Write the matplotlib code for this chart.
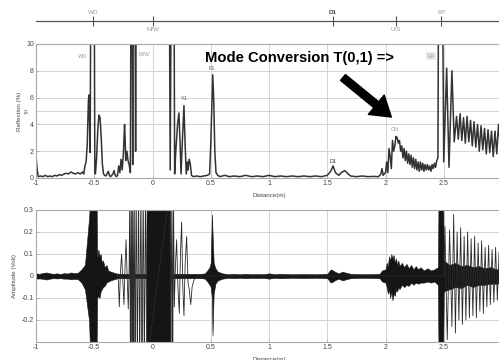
import matplotlib
matplotlib.use("Agg")
import matplotlib.pyplot as plt

plt.rcParams['font.family'] = ['Liberation Sans', 'DejaVu Sans']

# ---------------- data ----------------
feature_names = ["WD", "M/W", "D1", "U/S", "EP"]
feature_pos = [-0.51, 0.0, 1.55, 2.09, 2.48]

refl_x = [-1.00, -0.99, -0.98, -0.96, -0.94, -0.92, -0.90, -0.88, -0.86, -0.84, -0.82, -0.80,
          -0.78, -0.76, -0.74, -0.72, -0.70, -0.68, -0.66, -0.64, -0.62, -0.60, -0.59, -0.58,
          -0.57, -0.56, -0.55, -0.545, -0.54, -0.535, -0.53, -0.50, -0.495, -0.49, -0.48, -0.47,
          -0.46, -0.45, -0.44, -0.43, -0.42, -0.41, -0.40, -0.39, -0.38, -0.37, -0.36, -0.35,
          -0.34, -0.33, -0.32, -0.31, -0.30, -0.29, -0.28, -0.27, -0.26, -0.25, -0.24, -0.235,
          -0.23, -0.22, -0.21, -0.20, -0.19, -0.185, -0.175, -0.17, -0.165, -0.15, -0.145, -0.14,
          0.145, 0.152, 0.16, 0.185, 0.19, 0.20, 0.215, 0.227, 0.237, 0.245, 0.255, 0.27,
          0.28, 0.29, 0.30, 0.305, 0.315, 0.325, 0.335, 0.35, 0.38, 0.41, 0.44, 0.47,
          0.49, 0.50, 0.517, 0.525, 0.535, 0.545, 0.56, 0.58, 0.62, 0.66, 0.70, 0.75,
          0.80, 0.85, 0.90, 0.95, 1.00, 1.05, 1.10, 1.15, 1.20, 1.25, 1.30, 1.35,
          1.40, 1.45, 1.50, 1.53, 1.55, 1.57, 1.60, 1.62, 1.65, 1.68, 1.70, 1.75,
          1.80, 1.85, 1.90, 1.94, 1.96, 1.97, 1.98, 2.00, 2.01, 2.02, 2.03, 2.04,
          2.05, 2.06, 2.07, 2.08, 2.09, 2.10, 2.11, 2.12, 2.13, 2.14, 2.15, 2.16,
          2.17, 2.18, 2.19, 2.20, 2.21, 2.22, 2.23, 2.24, 2.25, 2.26, 2.27, 2.28,
          2.29, 2.30, 2.31, 2.32, 2.33, 2.34, 2.35, 2.36, 2.37, 2.38, 2.39, 2.40,
          2.41, 2.42, 2.43, 2.44, 2.45, 2.455, 2.49, 2.50, 2.525, 2.545, 2.57, 2.59,
          2.61, 2.625, 2.64, 2.655, 2.67, 2.685, 2.70, 2.715, 2.73, 2.745, 2.76, 2.775,
          2.79, 2.805, 2.82, 2.835, 2.85, 2.865, 2.88, 2.895, 2.91, 2.925, 2.94, 2.955,
          2.97, 2.985, 3.00]
refl_y = [1.7, 0.6, 0.1, 0.15, 0.1, 0.2, 0.1, 0.15, 0.1, 0.2, 0.15, 0.25,
          0.2, 0.3, 0.35, 0.3, 0.45, 0.35, 0.3, 0.4, 0.3, 0.45, 0.3, 0.9,
          1.2, 2.5, 5.8, 6.2, 4.0, 1.9, 14.0, 14.0, 0.4, 0.3, 1.5, 3.5,
          4.7, 4.5, 3.0, 1.0, 0.3, 0.2, 0.15, 0.3, 0.5, 0.2, 0.1, 0.2,
          0.3, 0.55, 0.2, 0.1, 0.2, 0.9, 0.4, 1.4, 0.6, 1.8, 4.0, 3.0,
          1.3, 2.0, 1.3, 1.0, 0.4, 14.0, 14.0, 1.0, 14.0, 14.0, 2.0, 14.0,
          14.0, 0.6, 14.0, 14.0, 0.3, 2.0, 4.0, 4.85, 2.5, 0.3, 2.5, 5.4,
          2.5, 0.3, 1.2, 0.6, 1.4, 1.0, 0.2, 0.1, 0.15, 0.1, 0.15, 0.2,
          0.3, 2.5, 7.7, 6.0, 2.0, 0.4, 0.2, 0.1, 0.2, 0.1, 0.15, 0.1,
          0.2, 0.1, 0.15, 0.1, 0.2, 0.1, 0.15, 0.1, 0.15, 0.1, 0.15, 0.1,
          0.15, 0.1, 0.2, 0.5, 0.9, 0.4, 0.2, 0.4, 0.55, 0.3, 0.15, 0.1,
          0.15, 0.1, 0.12, 0.1, 0.3, 0.7, 0.2, 0.4, 1.2, 0.4, 2.2, 1.6,
          0.7, 2.8, 2.0, 2.4, 3.1, 3.0, 2.6, 2.8, 2.0, 2.4, 1.5, 2.2,
          1.3, 2.0, 1.1, 1.8, 1.0, 1.7, 0.8, 1.5, 0.7, 1.4, 0.6, 1.2,
          0.5, 1.2, 0.6, 1.1, 0.5, 1.0, 0.6, 1.0, 0.6, 0.9, 0.5, 1.0,
          0.7, 1.1, 0.8, 1.3, 1.5, 14.0, 14.0, 1.2, 8.2, 0.8, 8.0, 2.7,
          4.6, 2.9, 4.8, 2.8, 4.5, 2.6, 4.6, 2.7, 4.3, 2.4, 4.2, 2.3,
          4.0, 2.0, 3.9, 2.1, 3.7, 1.8, 3.6, 1.9, 3.5, 1.6, 3.5, 1.8,
          4.0, 2.5, 3.0]

# envelope of the dense (unresolved) waveform: x, upper, lower (same length rows)
env_x = [-1.00, -0.97, -0.94, -0.91, -0.88, -0.85, -0.82, -0.79, -0.76, -0.73, -0.70, -0.67,
         -0.64, -0.61, -0.58, -0.56, -0.545, -0.535, -0.48, -0.475, -0.465, -0.455, -0.445, -0.435,
         -0.425, -0.41, -0.395, -0.38, -0.36, -0.33, -0.30, -0.055, -0.05, 0.15, 0.155, 0.38,
         0.42, 0.45, 0.47, 0.49, 0.50, 0.51, 0.515, 0.525, 0.54, 0.56, 0.60, 0.65,
         0.70, 0.75, 0.80, 0.85, 0.90, 0.95, 1.00, 1.05, 1.10, 1.20, 1.30, 1.40,
         1.50, 1.53, 1.55, 1.57, 1.60, 1.63, 1.66, 1.70, 1.80, 1.90, 1.95, 1.97,
         2.00, 2.01, 2.02, 2.03, 2.04, 2.05, 2.06, 2.07, 2.08, 2.09, 2.10, 2.11,
         2.12, 2.14, 2.16, 2.18, 2.20, 2.22, 2.24, 2.26, 2.28, 2.30, 2.33, 2.36,
         2.39, 2.42, 2.45, 2.455, 2.495, 2.50, 2.55, 2.60, 2.65, 2.70, 2.75, 2.80,
         2.85, 2.90, 2.95, 3.00]
env_hi = [0.012, 0.010, 0.014, 0.016, 0.012, 0.010, 0.012, 0.009, 0.013, 0.011, 0.016, 0.013,
          0.015, 0.03, 0.05, 0.17, 0.26, 0.35, 0.35, 0.08, 0.12, 0.09, 0.10, 0.06,
          0.07, 0.04, 0.05, 0.025, 0.02, 0.015, 0.01, 0.01, 0.35, 0.35, 0.01, 0.01,
          0.01, 0.012, 0.025, 0.04, 0.06, 0.28, 0.2, 0.06, 0.035, 0.02, 0.012, 0.008,
          0.010, 0.008, 0.010, 0.008, 0.009, 0.008, 0.012, 0.008, 0.010, 0.008, 0.009, 0.008,
          0.010, 0.03, 0.025, 0.018, 0.012, 0.02, 0.015, 0.01, 0.008, 0.009, 0.01, 0.025,
          0.03, 0.06, 0.04, 0.09, 0.07, 0.10, 0.08, 0.095, 0.06, 0.08, 0.05, 0.07,
          0.045, 0.06, 0.04, 0.055, 0.035, 0.05, 0.03, 0.045, 0.03, 0.04, 0.025, 0.035,
          0.025, 0.03, 0.04, 0.35, 0.35, 0.07, 0.05, 0.06, 0.045, 0.05, 0.04, 0.045,
          0.035, 0.04, 0.03, 0.035]
env_lo = [-0.012, -0.011, -0.013, -0.016, -0.012, -0.010, -0.011, -0.010, -0.012, -0.012, -0.015, -0.013,
          -0.015, -0.03, -0.06, -0.14, -0.2, -0.35, -0.35, -0.1, -0.09, -0.10, -0.07, -0.06,
          -0.05, -0.045, -0.03, -0.025, -0.02, -0.015, -0.01, -0.01, -0.35, -0.35, -0.01, -0.01,
          -0.01, -0.012, -0.025, -0.04, -0.05, -0.1, -0.27, -0.08, -0.035, -0.02, -0.012, -0.008,
          -0.010, -0.008, -0.010, -0.008, -0.009, -0.008, -0.012, -0.008, -0.010, -0.008, -0.009, -0.008,
          -0.010, -0.03, -0.025, -0.018, -0.012, -0.02, -0.015, -0.01, -0.008, -0.009, -0.01, -0.025,
          -0.03, -0.05, -0.08, -0.06, -0.10, -0.07, -0.11, -0.08, -0.09, -0.06, -0.07, -0.05,
          -0.06, -0.04, -0.05, -0.04, -0.045, -0.03, -0.04, -0.03, -0.035, -0.03, -0.03, -0.025,
          -0.03, -0.025, -0.04, -0.35, -0.35, -0.07, -0.06, -0.05, -0.055, -0.04, -0.05, -0.04,
          -0.04, -0.035, -0.035, -0.03]

# individual resolved swings of the waveform
wave_x = [-0.30, -0.295, -0.285, -0.275, -0.265, -0.255, -0.245, -0.236, -0.227, -0.218, -0.208, -0.200,
          -0.195, -0.190, -0.182, -0.176, -0.170, -0.164, -0.157, -0.150, -0.140, -0.130, -0.120, -0.110,
          -0.100, -0.090, -0.080, -0.070, -0.060, -0.050, 0.150, 0.158, 0.166, 0.174, 0.180, 0.187,
          0.197, 0.207, 0.218, 0.230, 0.240, 0.250, 0.260, 0.270, 0.280, 0.293, 0.305, 0.315,
          0.328, 0.340, 0.355, 0.370, 0.390, 2.500, 2.510, 2.530, 2.550, 2.570, 2.585, 2.600,
          2.615, 2.630, 2.645, 2.660, 2.675, 2.690, 2.705, 2.720, 2.735, 2.750, 2.765, 2.780,
          2.795, 2.810, 2.825, 2.840, 2.855, 2.870, 2.885, 2.900, 2.915, 2.930, 2.945, 2.960,
          2.975, 2.990]
wave_y = [0.0, 0.01, -0.14, 0.02, 0.10, -0.02, -0.13, 0.04, 0.165, 0.0, -0.15, 0.05,
          0.40, -0.40, 0.40, -0.40, 0.40, -0.40, 0.40, -0.40, 0.40, -0.40, 0.40, -0.40,
          0.40, -0.40, 0.40, -0.40, 0.40, -0.40, 0.40, -0.40, 0.40, -0.40, 0.40, -0.14,
          0.05, 0.165, -0.05, -0.17, 0.10, 0.245, -0.05, -0.18, 0.05, 0.18, -0.03, -0.06,
          -0.13, -0.05, -0.02, -0.005, 0.0, 0.0, 0.225, -0.29, 0.21, -0.23, 0.28, -0.26,
          0.20, -0.20, 0.22, -0.22, 0.18, -0.20, 0.20, -0.19, 0.17, -0.18, 0.18, -0.19,
          0.15, -0.16, 0.16, -0.17, 0.13, -0.14, 0.14, -0.13, 0.12, -0.12, 0.13, -0.11,
          0.11, -0.10]

top_yticks = [0, 2, 4, 6, 8, 10]
bot_yticks = [-0.2, -0.1, 0, 0.1, 0.2, 0.3]
bot_yticklabels = ["-0.2", "-0.1", "0", "0.1", "0.2", "0.3"]
xticks = [-1, -0.5, 0, 0.5, 1, 1.5, 2, 2.5]
xticklabels = ["-1", "-0.5", "0", "0.5", "1", "1.5", "2", "2.5"]
threshold = 5

# peak labels inside top panel: (text, x, y, color)
peak_labels = [("WD", -0.60, 9.1, "#999999"), ("M/W", -0.07, 9.2, "#999999"),
               ("Y1", 0.27, 5.9, "#555555"), ("F1", 0.51, 8.2, "#555555"),
               ("D1", 1.55, 1.25, "#333333"), ("CN", 2.08, 3.6, "#999999")]

# ---------------- figure ----------------
W, H = 499, 360
fig = plt.figure(figsize=(W / 100, H / 100), dpi=100)

def px_axes(left, top, right, bottom):
    return [left / W, 1 - bottom / H, (right - left) / W, (bottom - top) / H]

xlim = (-1, 3)
grid_c = "#d4d4d4"
spine_c = "#a8a8a8"
tick_c = "#444444"
fs_tick = 5

# feature axis
axf = fig.add_axes(px_axes(36, 5, 502, 21))
axf.set_xlim(*xlim)
axf.set_ylim(0, 1)
for s in ["top", "left", "right"]:
    axf.spines[s].set_visible(False)
axf.spines["bottom"].set_color("#555555")
axf.spines["bottom"].set_linewidth(0.9)
axf.set_yticks([])
axf.set_xticks(feature_pos)
axf.set_xticklabels([])
axf.tick_params(axis="x", direction="inout", length=7, width=0.8, color="#555555")
axf.patch.set_alpha(0)
for n, p in zip(feature_names, feature_pos):
    above = n in ("WD", "D1", "EP")
    col = "#444444" if n == "D1" else "#999999"
    axf.text(p, 0.55 if above else -0.55, n, ha="center", va="center",
             fontsize=4.5, color=col, fontweight="bold" if n == "D1" else "normal",
             clip_on=False)

# top panel
ax1 = fig.add_axes(px_axes(36, 44, 502, 178))
ax1.plot(refl_x, refl_y, color="#333333", lw=1.1)
ax1.axhline(threshold, color=grid_c, lw=0.7, zorder=0)
ax1.set_xlim(*xlim)
ax1.set_ylim(0, 10)
ax1.set_yticks(top_yticks)
ax1.set_yticklabels([str(v) for v in top_yticks])
ax1.set_xticks(xticks)
ax1.set_xticklabels(xticklabels)
ax1.grid(True, color=grid_c, lw=0.7)
ax1.set_axisbelow(True)
ax1.set_ylabel("Reflection (%)", fontsize=4.5, color="#444444", labelpad=3)
ax1.set_xlabel("Distance(m)", fontsize=4.5, color="#444444")
ax1.xaxis.set_label_coords(0.5, -0.11)
ax1.text(-1.07, threshold, "TH", rotation=90, fontsize=3.5, color="#666666",
         ha="center", va="center", clip_on=False)
for t, x, y, c in peak_labels:
    ax1.text(x, y, t, fontsize=4, color=c, ha="center", va="center")
ax1.text(2.39, 9.1, "EP", fontsize=4, color="#999999", ha="center", va="center",
         bbox=dict(boxstyle="square,pad=0.2", fc="#e8e8e8", ec="none"))
ax1.text(0.45, 8.95, "Mode Conversion T(0,1) =>", fontsize=10.6, fontweight="bold",
         color="black", ha="left", va="center")
ax1.annotate("", xy=(2.05, 4.55), xytext=(1.635, 7.5),
             arrowprops=dict(arrowstyle="simple,head_width=1.8,head_length=1.4,tail_width=0.55",
                             color="black", shrinkA=0, shrinkB=0))

# bottom panel
ax2 = fig.add_axes(px_axes(36, 210, 502, 342))
ax2.fill_between(env_x, env_lo, env_hi, color="#151515", lw=0.4)
ax2.plot(wave_x, wave_y, color="#2a2a2a", lw=0.6)
ax2.set_xlim(*xlim)
ax2.set_ylim(-0.3, 0.3)
ax2.set_yticks(bot_yticks)
ax2.set_yticklabels(bot_yticklabels)
ax2.set_xticks(xticks)
ax2.set_xticklabels(xticklabels)
ax2.grid(True, color=grid_c, lw=0.7)
ax2.set_axisbelow(True)
ax2.set_ylabel("Amplitude (Volt)", fontsize=4.5, color="#444444", labelpad=3)
ax2.set_xlabel("Distance(m)", fontsize=4.5, color="#444444")
ax2.xaxis.set_label_coords(0.5, -0.11)

for ax in (ax1, ax2):
    for s in ax.spines.values():
        s.set_color(spine_c)
        s.set_linewidth(0.8)
    ax.spines["right"].set_visible(False)
    ax.tick_params(labelsize=fs_tick, colors=tick_c, length=2, width=0.5, pad=1.5,
                   direction="in")
    ax.tick_params(axis="both", color=spine_c)

fig.savefig("out.png", dpi=100)
